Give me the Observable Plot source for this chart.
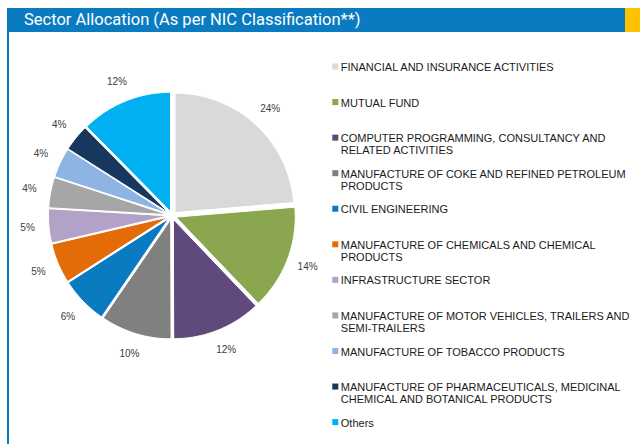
<!DOCTYPE html>
<html><head><meta charset="utf-8">
<script src="https://cdn.jsdelivr.net/npm/d3@7"></script>
<script src="https://cdn.jsdelivr.net/npm/@observablehq/plot@0.6"></script>
<style>
html,body{margin:0;padding:0;background:#fff;}
#wrap{position:relative;width:640px;height:444px;overflow:hidden;background:#fff;}
#hdr{position:absolute;left:7px;top:8px;width:618px;height:24px;background:#0a7bc1;color:#fff;font-family:Roboto,sans-serif;font-size:16.5px;line-height:24px;padding-left:17px;box-sizing:border-box;white-space:nowrap;}
#acc{position:absolute;left:625px;top:8px;width:15px;height:24px;background:#ffc000;}
#bar{position:absolute;left:7px;top:32px;width:2.3px;height:412px;background:#0a7bc1;}
#chart{position:absolute;left:0;top:32px;}
</style></head><body>
<div id="wrap"><div id="hdr"></div><div id="acc"></div><div id="bar"></div><div id="chart"></div></div>
<script>
const title = "Sector Allocation (As per NIC Classification**)";
const sectors = [
  "FINANCIAL AND INSURANCE ACTIVITIES",
  "MUTUAL FUND",
  "COMPUTER PROGRAMMING, CONSULTANCY AND RELATED ACTIVITIES",
  "MANUFACTURE OF COKE AND REFINED PETROLEUM PRODUCTS",
  "CIVIL ENGINEERING",
  "MANUFACTURE OF CHEMICALS AND CHEMICAL PRODUCTS",
  "INFRASTRUCTURE SECTOR",
  "MANUFACTURE OF MOTOR VEHICLES, TRAILERS AND SEMI-TRAILERS",
  "MANUFACTURE OF TOBACCO PRODUCTS",
  "MANUFACTURE OF PHARMACEUTICALS, MEDICINAL CHEMICAL AND BOTANICAL PRODUCTS",
  "Others"
];
const shares = [23.7, 14.2, 12.1, 9.6, 6.4, 5.4, 4.6, 4.1, 4.0, 3.6, 12.4];
const colors = ["#d9d9d9", "#8aa64f", "#604a7b", "#808080", "#0a7bc1", "#e36c09",
                "#b3a2c7", "#a6a6a6", "#8eb4e3", "#17375e", "#00b0f0"];

document.getElementById("hdr").textContent = title;

// layout (pixels within the SVG)
const W = 640, H = 412;
const cx = 171.5, cy = 183, R = 119, explode = 4.5, labelR = 145;
const legX = 334.8, legY0 = 34, legStep = 35.56;

const data = sectors.map((s, i) => ({sector: s, value: shares[i]}));
const arcs = d3.pie().sort(null).value(d => d.value)(data);

const polys = [];
const labels = [];
arcs.forEach(p => {
  const mid = (p.startAngle + p.endAngle) / 2;
  const ox = cx + explode * Math.sin(mid), oy = cy - explode * Math.cos(mid);
  const s = p.data.sector;
  polys.push({sector: s, x: ox, y: oy});
  const n = Math.max(2, Math.ceil((p.endAngle - p.startAngle) / (Math.PI / 180)));
  for (let k = 0; k <= n; k++) {
    const a = p.startAngle + (p.endAngle - p.startAngle) * k / n;
    polys.push({sector: s, x: ox + R * Math.sin(a), y: oy - R * Math.cos(a)});
  }
  labels.push({x: cx + labelR * Math.sin(mid), y: cy - labelR * Math.cos(mid), text: Math.round(p.data.value) + "%"});
});

const legend = sectors.map((s, i) => ({sector: s, x: legX, tx: legX + 5.5, y: legY0 + legStep * i, ty: legY0 + legStep * i - 4}));

const chart = Plot.plot({
  width: W, height: H, margin: 0,
  x: {domain: [0, W], range: [0, W], axis: null},
  y: {domain: [0, H], range: [0, H], axis: null},
  color: {domain: sectors, range: colors},
  style: {fontFamily: "'Liberation Sans', Arial, sans-serif", background: "transparent", overflow: "visible"},
  marks: [
    Plot.line(polys, {x: "x", y: "y", z: "sector", fill: "sector", stroke: "white", strokeWidth: 1, curve: "linear-closed"}),
    Plot.text(labels, {x: "x", y: "y", text: "text", fontSize: 10, fill: "#404040"}),
    Plot.dot(legend, {x: "x", y: "y", symbol: "square", r: 3.4, fill: "sector", stroke: null}),
    Plot.text(legend, {x: "tx", y: "ty", text: "sector", textAnchor: "start", lineAnchor: "top", lineWidth: 27, lineHeight: 1.1, fontSize: 11, fill: "#1a1a1a"})
  ]
});
document.getElementById("chart").appendChild(chart);
</script>
</body></html>
